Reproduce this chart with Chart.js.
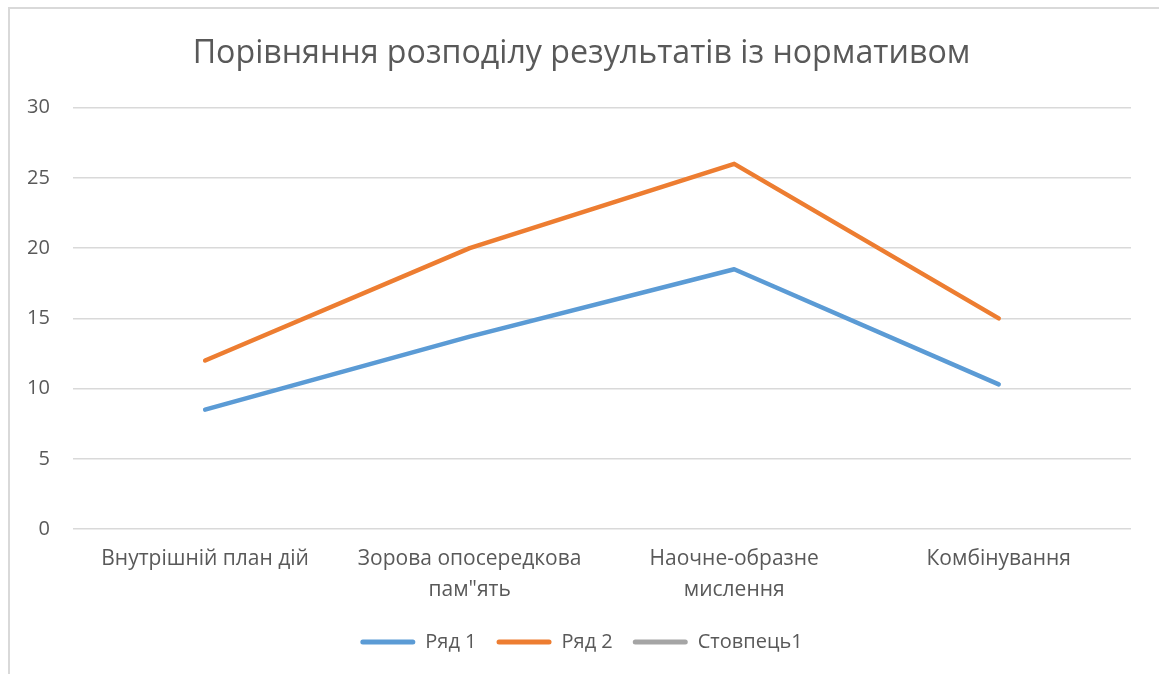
<!DOCTYPE html>
<html lang="uk">
<head>
<meta charset="UTF-8" />
<title>Порівняння розподілу результатів із нормативом</title>
<script src="https://cdn.jsdelivr.net/npm/chart.js@4.4.0/dist/chart.umd.min.js"></script>
<style>
  html, body { margin: 0; padding: 0; background: #fff; overflow: hidden; }
  #frame { position: absolute; left: 8px; top: 7px; width: 1200px; height: 700px; border: 2px solid #d9d9d9; box-sizing: border-box; }
  #wrap { position: absolute; left: 0; top: 0; width: 1159px; height: 674px; }
</style>
</head>
<body>
<div id="frame"></div>
<div id="wrap"><canvas id="myChart"></canvas></div>
<script>
var categories = [
  "Внутрішній план дій",
  ["Зорова опосередкова", "пам\"ять"],
  ["Наочне-образне", "мислення"],
  "Комбінування"
];
var row1 = [8.5, 13.7, 18.5, 10.3];
var row2 = [12, 20, 26, 15];
var column1 = [null, null, null, null];
var yTicks = [0, 5, 10, 15, 20, 25, 30];

var textColor = "#595959";
var fontFamily = "'Open Sans', 'Noto Sans', sans-serif";

var chart = new Chart(document.getElementById("myChart"), {
  type: "line",
  data: {
    labels: categories,
    datasets: [
      { label: "Ряд 1", data: row1, borderColor: "#5b9bd5", backgroundColor: "#5b9bd5" },
      { label: "Ряд 2", data: row2, borderColor: "#ed7d31", backgroundColor: "#ed7d31" },
      { label: "Стовпець1", data: column1, borderColor: "#a5a5a5", backgroundColor: "#a5a5a5" }
    ]
  },
  options: {
    responsive: true,
    maintainAspectRatio: false,
    animation: false,
    layout: { padding: { left: 4, right: 0, top: 0, bottom: 12 } },
    elements: {
      line: { borderWidth: 4.5, tension: 0, borderCapStyle: "round", borderJoinStyle: "round" },
      point: { radius: 0, hoverRadius: 0 }
    },
    plugins: {
      title: {
        display: true,
        text: "Порівняння розподілу результатів із нормативом",
        color: textColor,
        font: { family: fontFamily, size: 32.2, weight: "normal" },
        padding: { top: 35, bottom: 34 }
      },
      legend: {
        position: "bottom",
        labels: {
          color: textColor,
          font: { family: fontFamily, size: 20 },
          boxWidth: 55,
          boxHeight: 5,
          padding: 20,
          useBorderRadius: true,
          borderRadius: 2.5,
          generateLabels: function (c) {
            return c.data.datasets.map(function (ds, i) {
              return {
                text: ds.label,
                fillStyle: ds.borderColor,
                strokeStyle: ds.borderColor,
                lineWidth: 0,
                fontColor: textColor,
                datasetIndex: i,
                borderRadius: 2.5
              };
            });
          }
        }
      },
      tooltip: { enabled: false }
    },
    scales: {
      x: {
        offset: true,
        grid: { display: false },
        border: { display: false },
        ticks: {
          color: textColor,
          font: { family: fontFamily, size: 21, lineHeight: 1.45 },
          maxRotation: 0,
          autoSkip: false,
          padding: 7
        }
      },
      y: {
        min: 0,
        max: 30,
        afterBuildTicks: function (axis) {
          axis.ticks = yTicks.map(function (v) { return { value: v }; });
        },
        grid: { color: "#d9d9d9", lineWidth: 1.5, drawTicks: false },
        border: { display: false },
        ticks: {
          color: textColor,
          font: { family: fontFamily, size: 20 },
          padding: 23
        }
      },
      // empty right-side axis only reserves the margin on the right of the plot
      yRight: {
        position: "right",
        grid: { display: false },
        border: { display: false },
        ticks: { display: false },
        afterFit: function (axis) { axis.width = 28; }
      }
    }
  }
});
</script>
</body>
</html>
